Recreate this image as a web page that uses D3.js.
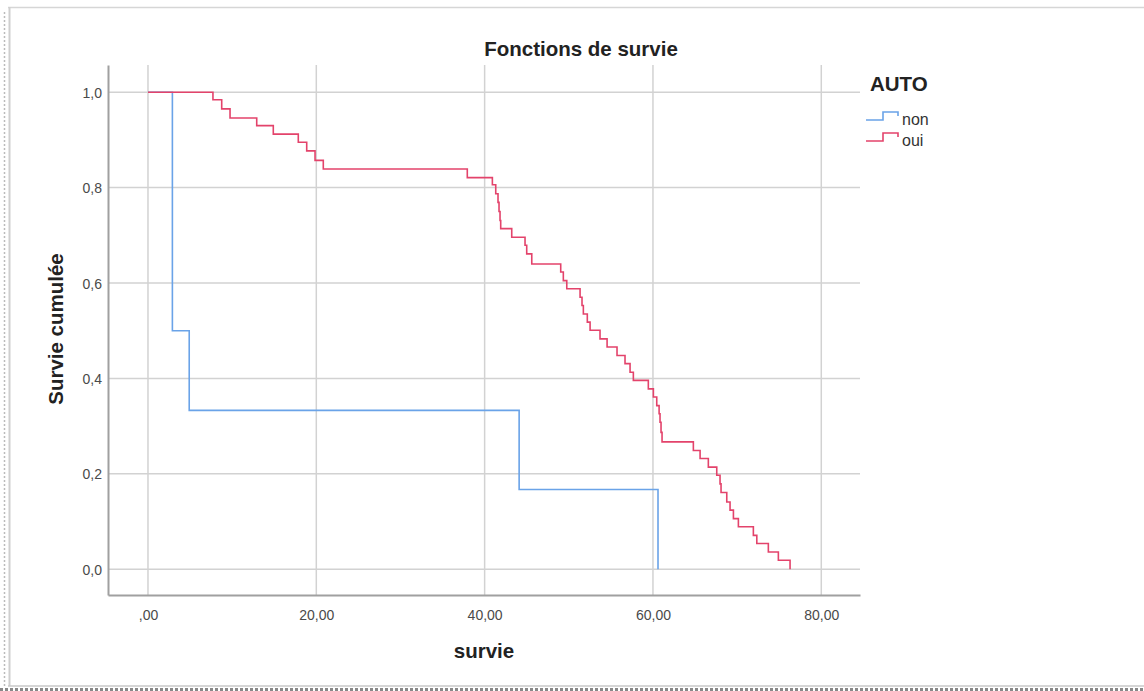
<!DOCTYPE html>
<html>
<head>
<meta charset="utf-8">
<script src="https://cdn.jsdelivr.net/npm/d3@7"></script>
<style>
  body { margin: 0; background: #fff; }
  text { font-family: "Liberation Sans", Arial, sans-serif; }
</style>
</head>
<body>
<div class="chart"></div>
<script>
// survival times (x) and cumulative survival after each drop
const nonTimes = [2.9, 4.9, 44.1, 60.6];
const nonSurv  = [0.5, 0.333, 0.167, 0];

const ouiTimes = [7.72, 8.76, 9.75, 12.92, 14.89, 17.86, 18.86, 19.85, 20.83, 37.94,
  40.92, 41.32, 41.59, 41.71, 41.83, 41.91, 43.22, 44.80, 45.00, 45.60,
  49.04, 49.35, 49.76, 51.34, 51.57, 51.73, 52.20, 52.53, 53.71, 54.55,
  55.73, 56.68, 57.28, 57.67, 59.45, 60.05, 60.45, 60.73, 60.84, 60.96,
  61.08, 64.80, 65.60, 66.58, 67.58, 67.97, 68.09, 68.77, 69.16, 69.56,
  70.15, 71.93, 72.34, 73.71, 74.90, 76.29];
const ouiSurv = [0.984, 0.965, 0.946, 0.930, 0.912, 0.895, 0.877, 0.857, 0.839, 0.821,
  0.806, 0.787, 0.769, 0.750, 0.731, 0.714, 0.696, 0.679, 0.661, 0.640,
  0.623, 0.605, 0.588, 0.570, 0.553, 0.535, 0.518, 0.501, 0.483, 0.466,
  0.448, 0.431, 0.413, 0.396, 0.378, 0.361, 0.343, 0.326, 0.308, 0.287,
  0.267, 0.249, 0.232, 0.214, 0.197, 0.179, 0.161, 0.141, 0.124, 0.106,
  0.089, 0.071, 0.054, 0.036, 0.019, 0];

const groups = ["non", "oui"];
const xTicks = [0, 20, 40, 60, 80];
const yTicks = [0, 0.2, 0.4, 0.6, 0.8, 1.0];

const width = 1144;
const height = 691;

const svg = d3.select(".chart")
  .append("svg")
    .attr("width", width)
    .attr("height", height);

svg.append("rect")
  .attr("width", width)
  .attr("height", height)
  .style("fill", "#fff");

// screenshot frame
svg.append("line")
  .attr("x1", 8).attr("y1", 7.5).attr("x2", width).attr("y2", 7.5)
  .style("stroke", "#d6d6d6").style("stroke-width", 1.5);
svg.append("line")
  .attr("x1", 9.5).attr("y1", 7).attr("x2", 9.5).attr("y2", 686)
  .style("stroke", "#cfcfcf").style("stroke-width", 2);
svg.append("line")
  .attr("x1", 4.5).attr("y1", 12).attr("x2", 4.5).attr("y2", 686)
  .style("stroke", "#bbb").style("stroke-width", 1.5)
  .style("stroke-dasharray", "2,2");
svg.append("line")
  .attr("x1", 8).attr("y1", 686).attr("x2", width).attr("y2", 686)
  .style("stroke", "#c8c8c8").style("stroke-width", 1.5);
svg.append("line")
  .attr("x1", 0).attr("y1", 689.5).attr("x2", width).attr("y2", 689.5)
  .style("stroke", "#888").style("stroke-width", 3)
  .style("stroke-dasharray", "3,2");

//SCALES
const plot = { left: 108, right: 860, top: 65, bottom: 595 };

const xScale = d3.scaleLinear()
  .domain([-4.75, 84.6])
  .range([plot.left, plot.right]);

const yScale = d3.scaleLinear()
  .domain([-0.054, 1.057])
  .range([plot.bottom, plot.top]);

const color = d3.scaleOrdinal()
  .domain(groups)
  .range(["#6aa3e8", "#e3436b"]);

const commaFmt = (fmt) => d => {
  let s = d3.format(fmt)(d).replace(".", ",");
  return s.startsWith("0,") && fmt === ".2f" ? s.slice(1) : s;
};

//grid
const grid = svg.append("g");
grid.selectAll(".vgrid")
  .data(xTicks)
  .enter().append("line")
    .attr("x1", d => xScale(d)).attr("x2", d => xScale(d))
    .attr("y1", plot.top).attr("y2", plot.bottom)
    .style("stroke", "#d2d2d2").style("stroke-width", 1.5);
grid.selectAll(".hgrid")
  .data(yTicks)
  .enter().append("line")
    .attr("x1", plot.left).attr("x2", plot.right)
    .attr("y1", d => yScale(d)).attr("y2", d => yScale(d))
    .style("stroke", "#d2d2d2").style("stroke-width", 1.5);

//xAxis
const xAxis = svg.append("g")
  .attr("transform", `translate(0,${plot.bottom})`)
  .call(d3.axisBottom(xScale).tickValues(xTicks).tickSize(0).tickFormat(commaFmt(".2f")));
xAxis.select(".domain").style("stroke", "#a0a0a0").style("stroke-width", 2);
xAxis.selectAll(".tick text")
  .attr("dy", "22px")
  .style("font-family", "Liberation Sans, Arial, sans-serif")
  .style("font-size", "14px")
  .style("fill", "#4a4a4a");

//yAxis
const yAxis = svg.append("g")
  .attr("transform", `translate(${plot.left},0)`)
  .call(d3.axisLeft(yScale).tickValues(yTicks).tickSize(0).tickFormat(commaFmt(".1f")));
yAxis.select(".domain").style("stroke", "#a0a0a0").style("stroke-width", 2);
yAxis.selectAll(".tick text")
  .attr("dx", "-3px")
  .attr("dy", "0.36em")
  .style("font-family", "Liberation Sans, Arial, sans-serif")
  .style("font-size", "14px")
  .style("fill", "#4a4a4a");

//CHART
const lineGenerator = d3.line()
  .curve(d3.curveStepAfter)
  .x(d => xScale(d.t))
  .y(d => yScale(d.s));

const series = [
  { name: "non", values: [{ t: 0, s: 1 }].concat(nonTimes.map((t, i) => ({ t: t, s: nonSurv[i] }))) },
  { name: "oui", values: [{ t: 0, s: 1 }].concat(ouiTimes.map((t, i) => ({ t: t, s: ouiSurv[i] }))) }
];

svg.selectAll(".km-line")
  .data(series)
  .enter().append("path")
    .attr("class", "km-line")
    .attr("d", d => lineGenerator(d.values))
    .style("fill", "none")
    .style("stroke", d => color(d.name))
    .style("stroke-width", 1.6);

// title
svg.append("text")
  .attr("x", 581)
  .attr("y", 56)
  .attr("text-anchor", "middle")
  .style("font-size", "20.5px")
  .style("font-weight", "700")
  .style("fill", "#222")
  .text("Fonctions de survie");

// axis titles
svg.append("text")
  .attr("x", 484)
  .attr("y", 658)
  .attr("text-anchor", "middle")
  .style("font-size", "20.5px")
  .style("font-weight", "700")
  .style("fill", "#222")
  .text("survie");

svg.append("text")
  .attr("transform", "translate(63,329) rotate(-90)")
  .attr("text-anchor", "middle")
  .style("font-size", "20.5px")
  .style("font-weight", "700")
  .style("fill", "#222")
  .text("Survie cumulée");

// legend
svg.append("text")
  .attr("x", 870)
  .attr("y", 91)
  .style("font-size", "20.5px")
  .style("font-weight", "700")
  .style("fill", "#222")
  .text("AUTO");

const legend = svg.selectAll(".legend-item")
  .data(groups)
  .enter().append("g")
    .attr("class", "legend-item")
    .attr("transform", (d, i) => `translate(0,${i * 21})`);

legend.append("path")
  .attr("d", "M866,120H883V112H898V116")
  .style("fill", "none")
  .style("stroke", d => color(d))
  .style("stroke-width", 1.6);

legend.append("text")
  .attr("x", 902)
  .attr("y", 125)
  .style("font-size", "16px")
  .style("fill", "#333")
  .text(d => d);
</script>
</body>
</html>
